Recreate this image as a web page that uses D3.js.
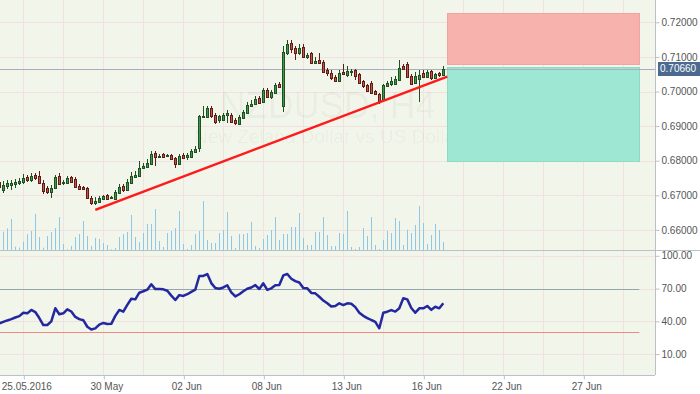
<!DOCTYPE html>
<html>
<head>
<meta charset="utf-8">
<script src="https://cdn.jsdelivr.net/npm/d3@7"></script>
<style>
  body { margin: 0; background: #fff; }
  text { font-family: "Liberation Sans", Arial, sans-serif; }
</style>
</head>
<body>
<svg id="chart"></svg>
<script>
// NZDUSD H4 bars: [open, high, low, close]
const ohlc = [
  [0.6738,0.6744,0.6715,0.6724],[0.6715,0.6741,0.6707,0.6730],[0.6727,0.6744,0.6718,0.6736],[0.6730,0.6744,0.6715,0.6736],
  [0.6733,0.6747,0.6721,0.6738],[0.6736,0.6750,0.6730,0.6741],[0.6738,0.6762,0.6733,0.6750],[0.6753,0.6759,0.6738,0.6744],
  [0.6744,0.6764,0.6738,0.6756],[0.6759,0.6764,0.6744,0.6750],[0.6756,0.6770,0.6733,0.6736],[0.6736,0.6744,0.6704,0.6712],
  [0.6721,0.6727,0.6704,0.6710],[0.6710,0.6730,0.6692,0.6721],[0.6721,0.6759,0.6718,0.6753],[0.6756,0.6764,0.6730,0.6733],
  [0.6736,0.6744,0.6730,0.6738],[0.6736,0.6756,0.6733,0.6750],[0.6753,0.6756,0.6736,0.6738],[0.6747,0.6753,0.6721,0.6724],
  [0.6727,0.6733,0.6715,0.6718],[0.6724,0.6727,0.6715,0.6718],[0.6721,0.6724,0.6689,0.6692],[0.6692,0.6698,0.6672,0.6678],
  [0.6678,0.6695,0.6672,0.6684],[0.6681,0.6698,0.6678,0.6692],[0.6689,0.6701,0.6686,0.6698],[0.6701,0.6704,0.6686,0.6689],
  [0.6692,0.6698,0.6689,0.6695],[0.6689,0.6715,0.6686,0.6710],[0.6707,0.6733,0.6704,0.6724],[0.6727,0.6733,0.6710,0.6715],
  [0.6715,0.6747,0.6712,0.6738],[0.6736,0.6767,0.6733,0.6756],[0.6753,0.6770,0.6750,0.6759],[0.6756,0.6799,0.6753,0.6779],
  [0.6779,0.6793,0.6776,0.6785],[0.6782,0.6805,0.6779,0.6793],[0.6790,0.6828,0.6788,0.6819],[0.6822,0.6828,0.6785,0.6811],
  [0.6811,0.6819,0.6808,0.6814],[0.6819,0.6822,0.6808,0.6811],[0.6814,0.6819,0.6811,0.6816],[0.6816,0.6819,0.6802,0.6805],
  [0.6808,0.6811,0.6779,0.6790],[0.6790,0.6819,0.6788,0.6814],[0.6816,0.6822,0.6805,0.6808],[0.6811,0.6822,0.6802,0.6816],
  [0.6811,0.6834,0.6808,0.6828],[0.6825,0.6842,0.6822,0.6834],[0.6837,0.6932,0.6825,0.6929],[0.6926,0.6958,0.6923,0.6929],
  [0.6926,0.6958,0.6923,0.6952],[0.6952,0.6958,0.6923,0.6929],[0.6932,0.6938,0.6906,0.6912],[0.6918,0.6932,0.6909,0.6929],
  [0.6918,0.6938,0.6915,0.6932],[0.6932,0.6947,0.6909,0.6938],[0.6932,0.6938,0.6909,0.6912],[0.6918,0.6923,0.6903,0.6909],
  [0.6906,0.6932,0.6903,0.6926],[0.6923,0.6947,0.6921,0.6941],[0.6938,0.6970,0.6935,0.6961],[0.6958,0.6975,0.6955,0.6964],
  [0.6964,0.6987,0.6961,0.6978],[0.6981,0.6987,0.6964,0.6967],[0.6970,0.7010,0.6967,0.7004],[0.7004,0.7010,0.6981,0.6984],
  [0.6984,0.7004,0.6978,0.6999],[0.6996,0.7025,0.6993,0.7019],[0.7022,0.7027,0.7010,0.7013],[0.6958,0.7131,0.6941,0.7114],
  [0.7111,0.7149,0.7105,0.7137],[0.7140,0.7149,0.7111,0.7123],[0.7126,0.7131,0.7091,0.7111],[0.7111,0.7137,0.7105,0.7126],
  [0.7129,0.7137,0.7097,0.7100],[0.7100,0.7111,0.7094,0.7105],[0.7111,0.7114,0.7079,0.7082],[0.7082,0.7100,0.7079,0.7088],
  [0.7091,0.7111,0.7079,0.7082],[0.7085,0.7091,0.7053,0.7056],[0.7062,0.7068,0.7045,0.7053],[0.7053,0.7062,0.7033,0.7039],
  [0.7042,0.7048,0.7027,0.7030],[0.7030,0.7062,0.7027,0.7053],[0.7056,0.7079,0.7048,0.7051],[0.7048,0.7074,0.7042,0.7059],
  [0.7056,0.7065,0.7045,0.7059],[0.7062,0.7065,0.7033,0.7045],[0.7051,0.7053,0.7022,0.7025],[0.7030,0.7033,0.7010,0.7016],
  [0.7019,0.7022,0.6999,0.7001],[0.7025,0.7030,0.6993,0.6996],[0.7001,0.7004,0.6990,0.6993],[0.6993,0.6996,0.6964,0.6973],
  [0.6975,0.7022,0.6973,0.7019],[0.7016,0.7030,0.7013,0.7025],[0.7022,0.7042,0.7016,0.7030],[0.7022,0.7045,0.7019,0.7036],
  [0.7033,0.7091,0.7030,0.7068],[0.7074,0.7079,0.7062,0.7065],[0.7079,0.7085,0.7039,0.7042],[0.7045,0.7051,0.7019,0.7022],
  [0.7025,0.7056,0.7022,0.7045],[0.7036,0.7062,0.6970,0.7048],[0.7053,0.7062,0.7039,0.7042],[0.7042,0.7062,0.7039,0.7056],
  [0.7059,0.7062,0.7033,0.7039],[0.7039,0.7053,0.7036,0.7051],[0.7053,0.7056,0.7042,0.7048],[0.7048,0.7074,0.7045,0.7066]
];

// tick volume per bar
const volume = [30,
  55,65,93,10,7,25,47,57,108,39, 7,42,54,66,99,18,2,12,39,48,
  87,42,12,36,33,21,15,2,6,39, 48,54,105,39,24,51,78,78,123,27,
  9,51,57,66,117,18,3,15,48,57, 147,30,21,21,51,60,114,42,6,48,
  48,51,84,12,6,33,45,60,99,30, 48,48,69,69,111,36,15,15,54,54,
  99,45,12,12,51,48,117,9,3,9, 66,42,99,15,3,30,57,51,96,87,
  15,61,51,75,132,81,18,45,78,60, 24];

// RSI per bar
const rsi = [38,39.5,40.8,42,43.5,44.7,47.9,47.3,50.4,48.5,43,36.6,36.6,40,51.9,46.5,47.3,51,49,44,
  42,41,35,32.5,33.5,37,38.5,37.5,37.7,45,50.4,48.8,55,60.7,60.1,66.2,67.5,69,73.9,69.5,
  69.6,69.3,68,63.5,59.5,64,63.2,64.8,67,69,81.5,81.5,83.3,75,70.5,69.8,71,73,66.5,62.8,
  64.8,67.5,69.8,71,73.2,69.6,74.8,68.8,70.2,73,73.3,82,83.3,79,76.8,75.5,70.5,70.2,66,65.6,
  62.5,59,56.5,53.5,54,56.5,54.9,56.5,56,53,47.9,45,43,41.2,39.5,33.6,47.9,48.8,50.3,48.9,
  51.9,61.1,60.1,52.2,47.9,51.9,51.9,54,50.5,53.3,51.9,56.5];

const dateIdx = [6, 26, 46, 66, 86, 106, 126, 146];
const dateLabels = ["25.05.2016", "30 May", "02 Jun", "08 Jun", "13 Jun", "16 Jun", "22 Jun", "27 Jun"];
const priceTicks = [0.66, 0.67, 0.68, 0.69, 0.70, 0.71, 0.72];
const rsiTicks = [10, 40, 70, 100];
const rsiLevels = [70, 30];
const lastPrice = 0.7066;
const trendLine = [{ idx: 24, price: 0.6658 }, { idx: 112, price: 0.7043 }];
const zones = [
  { from: 112, to: 160, top: 0.7228, bottom: 0.7082, fill: "#f7b2ad", stroke: "#f3a39d" },
  { from: 112, to: 160, top: 0.7071, bottom: 0.6800, fill: "#9de7d3", stroke: "#8adcc6" }
];
const symbol = "NZDUSD, H4";
const symbolName = "New Zeland Dollar vs US Dollar";

// layout
const width = 700, height = 394;
const plotW = 655, mainBottom = 250, rsiBottom = 375;
const bg = "#f1f5ea", gridColor = "#f0e2e0", axisColor = "#b9c1c8", textColor = "#555";

const svg = d3.select("#chart").attr("width", width).attr("height", height);
svg.append("rect").attr("width", width).attr("height", height).attr("fill", "#fff");
svg.append("rect").attr("width", plotW).attr("height", rsiBottom).attr("fill", bg);

svg.append("defs").append("clipPath").attr("id", "plotclip")
  .append("rect").attr("width", plotW).attr("height", rsiBottom);

const xScale = d3.scaleLinear().domain([0, 164]).range([-0.7, 655.3]);
const priceScale = d3.scaleLinear().domain([0.654191, 0.726445]).range([mainBottom, 0]);
const volScale = d3.scaleLinear().domain([0, 150]).range([mainBottom, 200]);
const rsiScale = d3.scaleLinear().domain([-9.16, 105.3]).range([rsiBottom, mainBottom]);

const g = svg.append("g").attr("clip-path", "url(#plotclip)");
const px = i => Math.floor(xScale(i));
const crisp = v => Math.round(v) + 0.5;

// grid
const gridIdx = d3.range(6, 164, 10);
g.selectAll(".vgrid").data(gridIdx).enter().append("line")
  .attr("x1", d => crisp(xScale(d))).attr("x2", d => crisp(xScale(d)))
  .attr("y1", 0).attr("y2", rsiBottom)
  .attr("stroke", gridColor).attr("stroke-width", 1);
g.selectAll(".pgrid").data(priceTicks).enter().append("line")
  .attr("x1", 0).attr("x2", plotW)
  .attr("y1", d => crisp(priceScale(d))).attr("y2", d => crisp(priceScale(d)))
  .attr("stroke", gridColor);
g.selectAll(".rgrid").data(rsiTicks).enter().append("line")
  .attr("x1", 0).attr("x2", plotW)
  .attr("y1", d => crisp(rsiScale(d))).attr("y2", d => crisp(rsiScale(d)))
  .attr("stroke", gridColor);

// watermark
g.append("text").attr("x", plotW / 2).attr("y", 118).attr("text-anchor", "middle")
  .attr("font-size", 36).attr("fill", "#000").attr("fill-opacity", 0.04).text(symbol);
g.append("text").attr("x", plotW / 2).attr("y", 143).attr("text-anchor", "middle")
  .attr("font-size", 19).attr("fill", "#000").attr("fill-opacity", 0.04).text(symbolName);

// volume
g.selectAll(".vol").data(volume).enter().append("line")
  .attr("x1", (d, i) => px(i) + 0.5).attr("x2", (d, i) => px(i) + 0.5)
  .attr("y1", volScale(0)).attr("y2", d => volScale(d))
  .attr("stroke", "#8ec8e6").attr("stroke-width", 1);

// zones
g.selectAll(".zone").data(zones).enter().append("rect")
  .attr("x", d => crisp(xScale(d.from))).attr("width", d => Math.round(xScale(d.to) - xScale(d.from)))
  .attr("y", d => crisp(priceScale(d.top)))
  .attr("height", d => Math.round(priceScale(d.bottom) - priceScale(d.top)))
  .attr("fill", d => d.fill).attr("stroke", d => d.stroke);

// last price line
g.append("line").attr("x1", 0).attr("x2", plotW)
  .attr("y1", crisp(priceScale(lastPrice))).attr("y2", crisp(priceScale(lastPrice)))
  .attr("stroke", "#a3b1be").attr("stroke-width", 1);

// candles
const candles = g.selectAll(".candle").data(ohlc).enter().append("g");
candles.append("line")
  .attr("x1", (d, i) => px(i) + 0.5).attr("x2", (d, i) => px(i) + 0.5)
  .attr("y1", d => Math.round(priceScale(d[1]))).attr("y2", d => Math.round(priceScale(d[2])))
  .attr("stroke", d => d[3] >= d[0] ? "#1f4f22" : "#5e1c16");
candles.append("rect")
  .attr("x", (d, i) => px(i) - 0.5).attr("width", 2)
  .attr("y", d => crisp(priceScale(Math.max(d[0], d[3]))))
  .attr("height", d => Math.max(1, Math.round(priceScale(Math.min(d[0], d[3]))) - Math.round(priceScale(Math.max(d[0], d[3])))))
  .attr("fill", d => d[3] >= d[0] ? "#3b9a4a" : "#c2554a")
  .attr("stroke", d => d[3] >= d[0] ? "#1f4f22" : "#5e1c16");

// trend line
g.append("line")
  .attr("x1", xScale(trendLine[0].idx)).attr("y1", priceScale(trendLine[0].price))
  .attr("x2", xScale(trendLine[1].idx)).attr("y2", priceScale(trendLine[1].price))
  .attr("stroke", "#ff1a1a").attr("stroke-width", 2.5);

// RSI panel
g.selectAll(".lvl").data(rsiLevels).enter().append("line")
  .attr("x1", 0).attr("x2", xScale(160))
  .attr("y1", d => crisp(rsiScale(d))).attr("y2", d => crisp(rsiScale(d)))
  .attr("stroke", d => d === 70 ? "#96a4ab" : "#ee8a82");
g.append("path").datum(rsi)
  .attr("fill", "none").attr("stroke", "#2328a0").attr("stroke-width", 2.5)
  .attr("stroke-linejoin", "round")
  .attr("d", d3.line().x((d, i) => xScale(i)).y(d => rsiScale(d)));

// panel borders
svg.append("line").attr("x1", 0).attr("x2", width).attr("y1", mainBottom + 0.5).attr("y2", mainBottom + 0.5)
  .attr("stroke", axisColor);

// axes
function styleAxis(sel) {
  sel.selectAll("path, line").attr("stroke", axisColor);
  sel.selectAll("text").attr("fill", textColor).attr("font-size", 10)
    .attr("font-family", "Liberation Sans, Arial, sans-serif");
}
const priceAxis = svg.append("g").attr("transform", `translate(${plotW + 0.5},0)`)
  .call(d3.axisRight(priceScale).tickValues(priceTicks).tickSize(4).tickSizeOuter(0)
    .tickFormat(d3.format(".5f")).tickPadding(2));
styleAxis(priceAxis);
priceAxis.select(".domain").attr("d", `M0,0V${rsiBottom}`);

const rsiAxis = svg.append("g").attr("transform", `translate(${plotW + 0.5},0)`)
  .call(d3.axisRight(rsiScale).tickValues(rsiTicks).tickSize(4).tickSizeOuter(0)
    .tickFormat(d3.format(".2f")).tickPadding(2));
styleAxis(rsiAxis);
rsiAxis.select(".domain").remove();

const timeAxis = svg.append("g").attr("transform", `translate(0,${rsiBottom + 0.5})`)
  .call(d3.axisBottom(xScale).tickValues(dateIdx).tickSize(4).tickSizeOuter(0)
    .tickFormat((d, i) => dateLabels[i]).tickPadding(3));
styleAxis(timeAxis);
timeAxis.select(".domain").attr("d", `M0,0H${plotW}`);
timeAxis.selectAll(".tick line").attr("transform", "translate(0.5,0)");
timeAxis.selectAll(".tick text").attr("dx", 3);

// last price label
const ly = priceScale(lastPrice);
svg.append("rect").attr("x", plotW + 3).attr("y", Math.round(ly) - 7).attr("width", width - plotW - 3).attr("height", 14)
  .attr("fill", "#4b6a90");
svg.append("text").attr("x", plotW + 5).attr("y", ly).attr("dy", "0.35em")
  .attr("font-size", 10).attr("fill", "#fff").text(d3.format(".5f")(lastPrice));
</script>
</body>
</html>
